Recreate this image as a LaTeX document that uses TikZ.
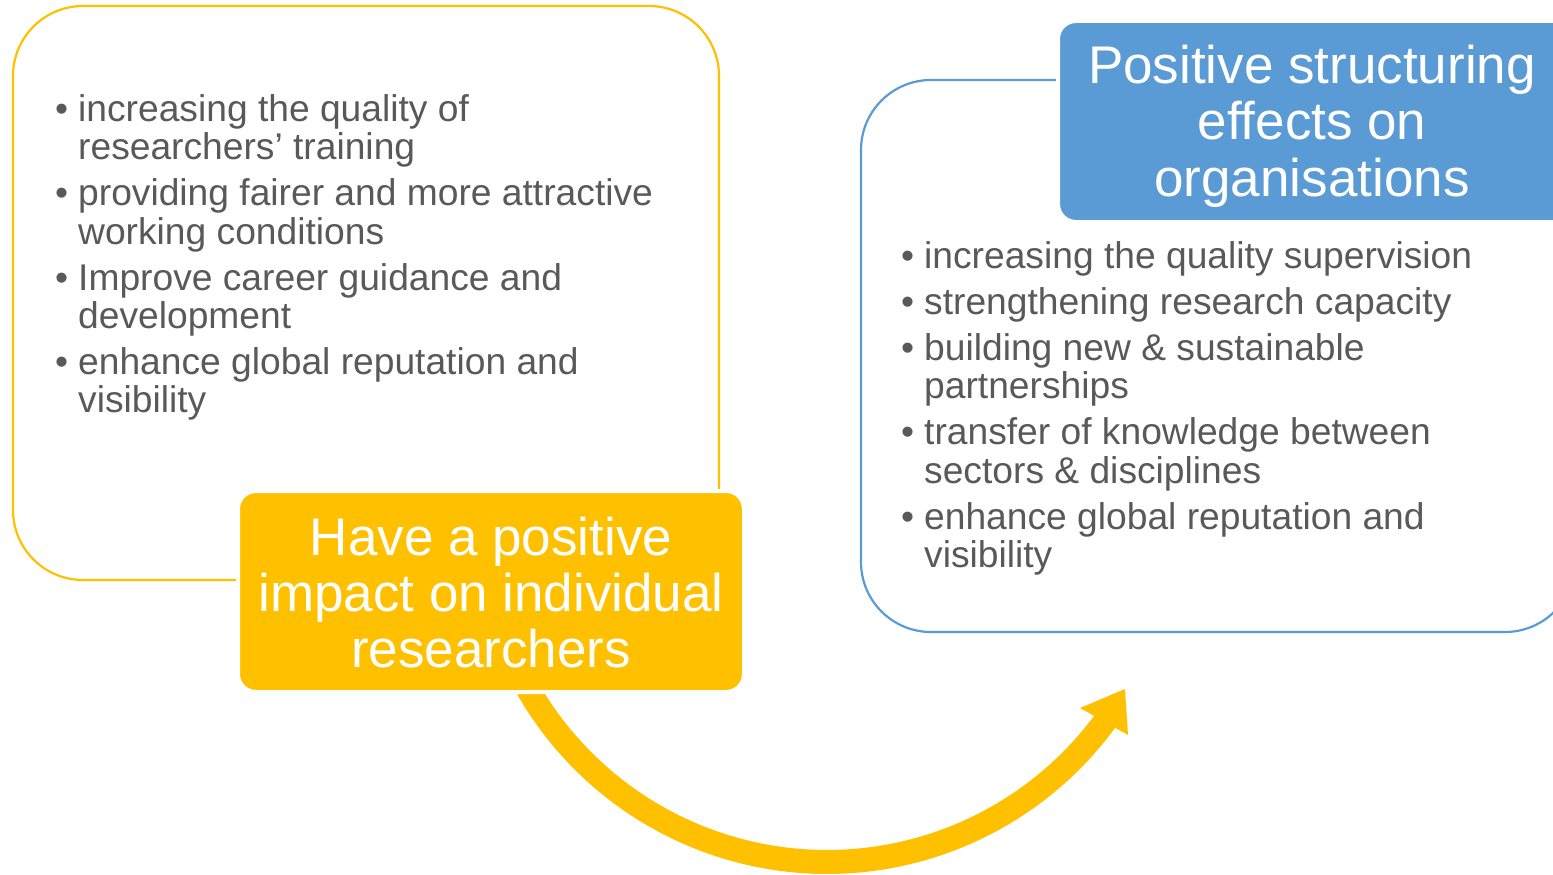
\documentclass[tikz,border=0pt]{standalone}
\usepackage{fontspec}
\setmainfont{Liberation Sans}
\definecolor{gold}{HTML}{FFC000}
\definecolor{bluec}{HTML}{5B9BD5}
\definecolor{txtgray}{HTML}{595959}
\newcommand{\bitem}[1]{\par\hangindent=23pt\hangafter=1\noindent\makebox[23pt][l]{\textbullet}#1}
\newcommand{\listfont}{\fontsize{37.2}{38.4}\selectfont\parskip=7.5pt\relax}
\newcommand{\headfont}{\fontsize{53}{56}\selectfont\parskip=0pt\relax}
\begin{document}
\begin{tikzpicture}[x=1pt,y=-1pt,
  outl/.style={draw, line width=2.2pt, rounded corners=70pt, inner sep=0pt},
  fbox/.style={draw=white, line width=4pt, rounded corners=18pt, inner sep=0pt},
  listtxt/.style={anchor=base west, inner sep=0pt, text=txtgray},
  headtxt/.style={anchor=base, inner sep=0pt, text=white}]
\begin{scope}
\clip (0,0) rectangle (1553,875);
% outlines
\node[outl, draw=gold, minimum width=706pt, minimum height=574pt] (yout) at (366,293) {};
\node[outl, draw=bluec, minimum width=714pt, minimum height=552pt] (bout) at (1218,356) {};
% curved arrow
\draw[gold, line width=24pt] plot[domain=36:158, samples=90] ({827+345*cos(\x)},{517+345*sin(\x)});
\coordinate (hl) at (1080,708);
\coordinate (ht) at (1125,689);
\coordinate (hr) at (1128,735);
\fill[gold] (hl) -- (ht) -- (hr) -- cycle;
% filled boxes
\node[fbox, fill=gold, minimum width=506pt, minimum height=201pt] (ybox) at (491,591.5) {};
\node[fbox, fill=bluec, minimum width=519pt, minimum height=201pt] (bbox) at (1317.5,121.5) {};
% texts
\node[headtxt] (yhead) at (491,555) {\vtop{\hsize=520pt\headfont\centering Have a positive\\impact on individual\\researchers\par}};
\node[headtxt] (bhead) at (1312,84) {\vtop{\hsize=520pt\headfont\centering Positive structuring\\effects on\\organisations\par}};
\node[listtxt] (llist) at (55,121.5) {\vtop{\hsize=700pt\listfont
  \bitem{increasing the quality of\newline researchers’ training}
  \bitem{providing fairer and more attractive\newline working conditions}
  \bitem{Improve career guidance and\newline development}
  \bitem{enhance global reputation and\newline visibility}\par}};
\node[listtxt] (rlist) at (901,268.6) {\vtop{\hsize=700pt\listfont
  \bitem{increasing the quality supervision}
  \bitem{strengthening research capacity}
  \bitem{building new \& sustainable\newline partnerships}
  \bitem{transfer of knowledge between\newline sectors \& disciplines}
  \bitem{enhance global reputation and\newline visibility}\par}};
\end{scope}
\pgfresetboundingbox
\useasboundingbox (0,0) rectangle (1553,875);
\end{tikzpicture}
\end{document}
